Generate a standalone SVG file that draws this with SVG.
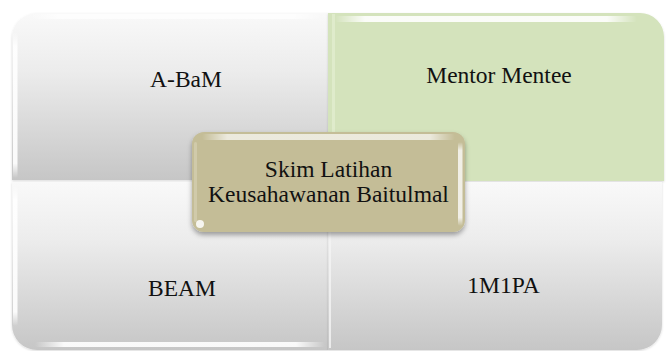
<svg xmlns="http://www.w3.org/2000/svg" width="667" height="351" viewBox="0 0 667 351">
<defs>
<linearGradient id="grey" x1="0" y1="0" x2="0" y2="1">
<stop offset="0" stop-color="#f9f9f9"/>
<stop offset="0.35" stop-color="#ececec"/>
<stop offset="1" stop-color="#c6c6c6"/>
</linearGradient>
<linearGradient id="hiH" x1="0" y1="0" x2="1" y2="0">
<stop offset="0" stop-color="#fff" stop-opacity="0"/>
<stop offset="0.1" stop-color="#fff" stop-opacity="0.9"/>
<stop offset="0.9" stop-color="#fff" stop-opacity="0.9"/>
<stop offset="1" stop-color="#fff" stop-opacity="0"/>
</linearGradient>
<linearGradient id="hiV" x1="0" y1="0" x2="0" y2="1">
<stop offset="0" stop-color="#fff" stop-opacity="0"/>
<stop offset="0.1" stop-color="#fff" stop-opacity="0.9"/>
<stop offset="0.9" stop-color="#fff" stop-opacity="0.9"/>
<stop offset="1" stop-color="#fff" stop-opacity="0"/>
</linearGradient>
<filter id="sh" x="-10%" y="-10%" width="120%" height="130%">
<feDropShadow dx="0" dy="3" stdDeviation="2.5" flood-color="#000" flood-opacity="0.35"/>
</filter>
<filter id="sh2" x="-5%" y="-5%" width="110%" height="115%">
<feDropShadow dx="0" dy="1" stdDeviation="1" flood-color="#000" flood-opacity="0.15"/>
</filter>
</defs>
<style>
.lbl{font-family:"Liberation Serif","Times New Roman",serif;font-size:23.5px;fill:#111;text-anchor:middle}
</style>
<rect width="667" height="351" fill="#fff"/>
<g id="node-abam">
<path d="M12,180 V38 A25,25 0 0 1 37,13 H328 V180 Z" fill="url(#grey)" filter="url(#sh2)"/>
<rect x="30" y="14" width="292" height="5" rx="2.5" fill="url(#hiH)" opacity="0.8"/>
<rect x="13" y="32" width="4.5" height="146" rx="2" fill="url(#hiV)"/>
<text class="lbl" x="186" y="87">A-BaM</text>
</g>
<g id="node-mentor">
<path d="M328,13 H640 A24,24 0 0 1 664,37 V181 H328 Z" fill="#d4e3bc" filter="url(#sh2)"/>
<rect x="332" y="14" width="3" height="166" fill="#dfebcb"/>
<rect x="335" y="16" width="302" height="6" rx="3" fill="url(#hiH)"/>
<text class="lbl" x="499" y="83">Mentor Mentee</text>
</g>
<g id="node-beam">
<path d="M12,182 H328 V350 H37 A25,25 0 0 1 12,325 Z" fill="url(#grey)" filter="url(#sh2)"/>
<rect x="13" y="186" width="4.5" height="140" rx="2" fill="url(#hiV)"/>
<rect x="35" y="342" width="290" height="5" rx="2.5" fill="url(#hiH)"/>
<text class="lbl" x="182" y="296">BEAM</text>
</g>
<g id="node-1m1pa">
<path d="M328,182 H662 V325 A25,25 0 0 1 637,350 H328 Z" fill="url(#grey)" filter="url(#sh2)"/>
<rect x="329" y="184" width="2" height="164" fill="#f4f4f4" opacity="0.8"/>
<text class="lbl" x="503.5" y="293">1M1PA</text>
</g>
<g id="connectors"></g>
<g id="node-center">
<rect x="192" y="132" width="273" height="100" rx="12" fill="#c4bd97" filter="url(#sh)"/>
<rect x="202" y="134" width="253" height="6" rx="3" fill="url(#hiH)" opacity="0.75"/>
<rect x="458" y="142" width="4.5" height="84" rx="2" fill="url(#hiV)" opacity="0.85"/>
<rect x="194" y="142" width="3" height="80" rx="1.5" fill="#d3cdaf" opacity="0.8"/>
<circle cx="200" cy="224" r="4" fill="#fff" opacity="0.85"/>
<text class="lbl" x="328.5" y="177">Skim Latihan</text>
<text class="lbl" x="328.5" y="202">Keusahawanan Baitulmal</text>
</g>
</svg>
